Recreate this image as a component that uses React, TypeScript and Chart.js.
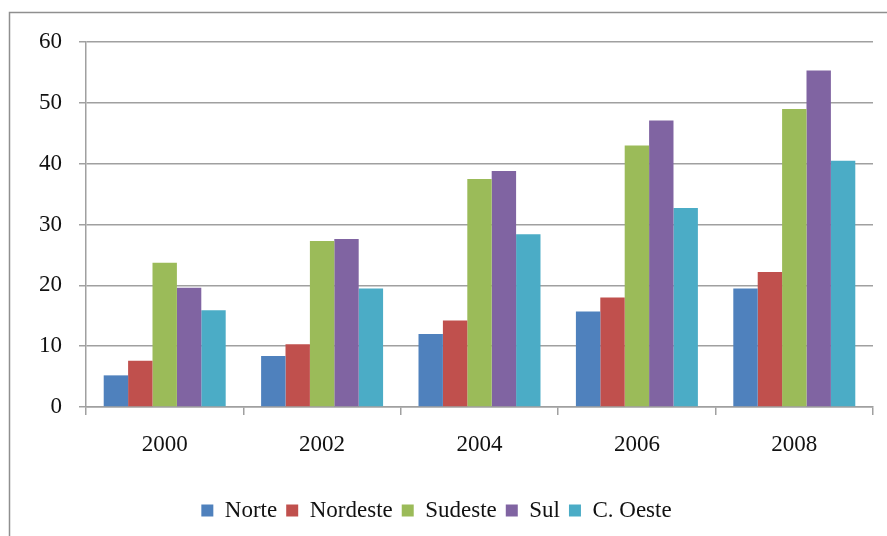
import React, { useEffect, useRef } from "react";
import { Chart, registerables } from "chart.js";

Chart.register(...registerables);

const years = ["2000", "2002", "2004", "2006", "2008"];
const norte = [5.2, 8.4, 12.0, 15.7, 19.5];
const nordeste = [7.6, 10.3, 14.2, 18.0, 22.2];
const sudeste = [23.7, 27.3, 37.5, 43.0, 49.0];
const sul = [19.6, 27.6, 38.8, 47.1, 55.3];
const cOeste = [15.9, 19.5, 28.4, 32.7, 40.5];
const yTicks = [0, 10, 20, 30, 40, 50, 60];

const FONT = "'Liberation Serif', 'Times New Roman', serif";

const framePlugin = {
  id: "frame",
  beforeDraw(chart: any) {
    const ctx = chart.ctx;
    ctx.save();
    ctx.fillStyle = "#ffffff";
    ctx.fillRect(0, 0, chart.width, chart.height);
    ctx.strokeStyle = "#8f8f8f";
    ctx.lineWidth = 1.5;
    ctx.beginPath();
    ctx.moveTo(9.5, chart.height);
    ctx.lineTo(9.5, 12.5);
    ctx.lineTo(chart.width, 12.5);
    ctx.stroke();
    ctx.restore();
  },
};

export default function App() {
  const ref = useRef<HTMLCanvasElement | null>(null);
  useEffect(() => {
    if (!ref.current) return;
    const chart = new Chart(ref.current, {
      type: "bar",
      data: {
        labels: years,
        datasets: [
          { label: "Norte", data: norte, backgroundColor: "#4F81BD" },
          { label: "Nordeste", data: nordeste, backgroundColor: "#C0504D" },
          { label: "Sudeste", data: sudeste, backgroundColor: "#9BBB59" },
          { label: "Sul", data: sul, backgroundColor: "#8064A2" },
          { label: "C. Oeste", data: cOeste, backgroundColor: "#4BACC6" },
        ],
      },
      options: {
        responsive: false,
        animation: false,
        devicePixelRatio: 1,
        categoryPercentage: 0.775,
        barPercentage: 1.0,
        layout: { padding: { left: 0, top: 42, right: 14, bottom: 4 } },
        plugins: {
          tooltip: { enabled: false },
          legend: {
            position: "bottom",
            labels: {
              boxWidth: 12,
              boxHeight: 12,
              padding: 9,
              color: "#111",
              font: { family: FONT, size: 23 },
            },
          },
        },
        scales: {
          x: {
            grid: {
              offset: true,
              drawOnChartArea: false,
              drawTicks: true,
              tickLength: 8,
              color: "#a0a0a0",
              lineWidth: 1.5,
            },
            border: { color: "#a0a0a0", width: 1.5 },
            ticks: {
              color: "#111",
              padding: 16,
              font: { family: FONT, size: 23 },
            },
            afterFit: (s: any) => {
              s.height = 83;
            },
          },
          y: {
            min: 0,
            max: 60,
            afterBuildTicks: (s: any) => {
              s.ticks = yTicks.map((v) => ({ value: v }));
            },
            grid: {
              color: "#a0a0a0",
              lineWidth: 1.5,
              drawTicks: true,
              tickLength: 7,
            },
            border: { color: "#a0a0a0", width: 1.5 },
            ticks: {
              color: "#111",
              padding: 17,
              font: { family: FONT, size: 23 },
            },
            afterFit: (s: any) => {
              s.width = 86;
            },
          },
        },
      },
      plugins: [framePlugin],
    });
    return () => chart.destroy();
  }, []);
  return (
    <div style={{ position: "absolute", left: 0, top: 0, width: 887, height: 536 }}>
      <canvas ref={ref} width={887} height={536} style={{ width: 887, height: 536, display: "block" }} />
    </div>
  );
}
